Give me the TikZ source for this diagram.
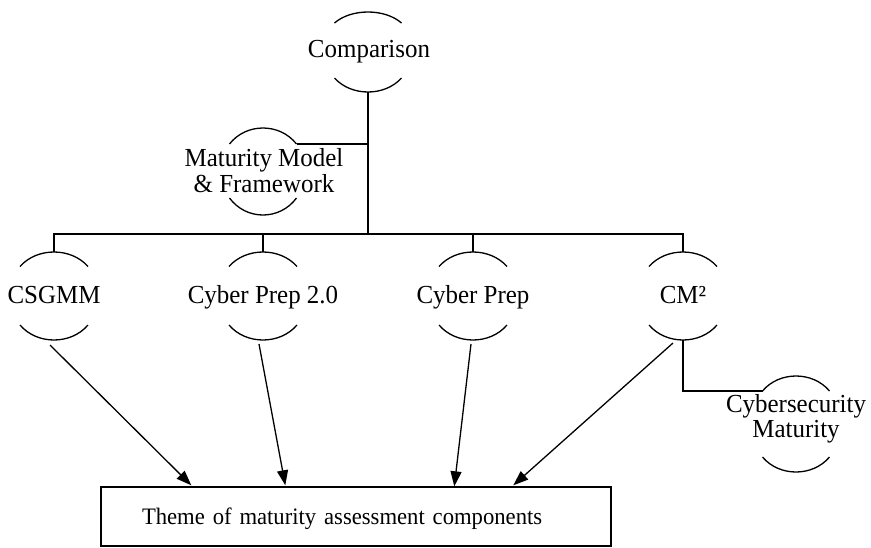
\documentclass[tikz,border=0pt]{standalone}
\usepackage{fontspec}
\setmainfont[FakeStretch=0.96]{Liberation Serif}
\usetikzlibrary{arrows.meta,calc}
\newcommand\bubarc[4]{% #1 cx, #2 half chord, #3 end y, #4 apex y
  \draw[arcline] ({#1-#2},#3) .. controls ({#1-#2/2},{#3+(#4-#3)*4/3}) and ({#1+#2/2},{#3+(#4-#3)*4/3}) .. ({#1+#2},#3);}
\begin{document}
\begin{tikzpicture}[x=1pt,y=-1pt,
  lbl/.style={anchor=base,inner sep=0pt,align=center,font=\fontsize{26}{26.5}\selectfont},
  arcline/.style={line width=1.3pt},
  conn/.style={line width=1.7pt},
  arr/.style={line width=1.3pt,-{Triangle[length=15pt,width=11pt]}},
  themebox/.style={draw,line width=1.4pt,minimum width=510pt,minimum height=59pt,
    text width=428pt,inner xsep=41pt,inner ysep=0pt,align=left,text depth=0pt,
    font=\fontsize{23.6}{24}\selectfont}]
\useasboundingbox (0,0) rectangle (871,547);

% text nodes (base anchor = baseline of the last line)
\node[lbl] (cmp) at (369,57) {Comparison};
\node[lbl] (mmf) at (264,192.5) {Maturity Model\\\& Framework};
\node[lbl] (csg) at (54,303) {CSGMM};
\node[lbl] (cp2) at (263,303) {Cyber Prep 2.0};
\node[lbl] (cp)  at (473,303) {Cyber Prep};
\node[lbl] (cm2) at (683,303) {CM²};
\node[lbl,font=\fontsize{26}{24.5}\selectfont] (csm) at (796,437) {Cybersecurity\\Maturity};
\node[themebox] (theme) at (356,516.5) {Theme of maturity assessment components};

% arcs
\bubarc{368}{33.5}{23}{12}
\bubarc{368}{33.5}{78}{92}
\bubarc{263}{33.5}{144}{128}
\bubarc{263}{33.5}{198}{215}
\foreach \cx in {54,263,473,683}{
  \bubarc{\cx}{34}{266.5}{252}
  \bubarc{\cx}{34}{325}{340}
}
\bubarc{796}{33.5}{391}{376}
\bubarc{796}{33.5}{457}{472}

% anchor coordinates
\coordinate (cmp-b) at (368,92);
\coordinate (mmf-r) at (296.5,144);
\coordinate (bar) at (368,234);
\coordinate (csg-t) at (54,252);
\coordinate (cp2-t) at (263,252);
\coordinate (cp-t) at (473,252);
\coordinate (cm2-t) at (683,252);
\coordinate (cm2-b) at (683,340);
\coordinate (csm-l) at (762.5,391);
\coordinate (csg-a) at (50,345);
\coordinate (cp2-a) at (259,344);
\coordinate (cp-a) at (471,344);
\coordinate (cm2-a) at (673,343);

% connectors
\draw[conn] (cmp-b) -- (bar);
\draw[conn] (mmf-r) -- (mmf-r -| bar);
\draw[conn] (csg-t) |- (bar) -| (cm2-t);
\draw[conn] (cp2-t) -- (cp2-t |- bar);
\draw[conn] (cp-t) -- (cp-t |- bar);
\draw[conn] (cm2-b) |- (csm-l);

% arrows
\draw[arr] (csg-a) -- ($(theme.north west)+(91,-1)$);
\draw[arr] (cp2-a) -- ($(theme.north west)+(185,-1)$);
\draw[arr] (cp-a) -- ($(theme.north west)+(354,0)$);
\draw[arr] (cm2-a) -- ($(theme.north west)+(413,-1)$);
\end{tikzpicture}
\end{document}
